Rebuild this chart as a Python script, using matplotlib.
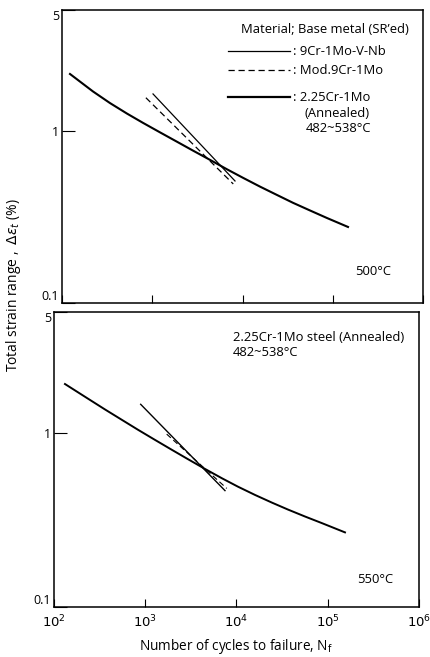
import numpy as np
import matplotlib
matplotlib.use("Agg")
import matplotlib.pyplot as plt
from matplotlib.ticker import NullLocator

plt.rcParams["font.family"] = ["Open Sans", "DejaVu Sans"]
plt.rcParams["mathtext.fontset"] = "dejavusans"

# 500 C panel
top_cr2_x = [122.6, 220.5, 340.3, 525.2, 789.6, 1219, 1881, 2828, 4364, 6735, 10130,
             15630, 24120, 36280, 55970, 86370, 147600]
top_cr2_y = [2.128, 1.685, 1.443, 1.254, 1.108, 0.976, 0.861, 0.765, 0.676, 0.596, 0.532,
             0.473, 0.423, 0.381, 0.344, 0.311, 0.276]
top_vnb_x = [1020, 8260]
top_vnb_y = [1.63, 0.51]
top_mod_x = [850, 7900]
top_mod_y = [1.55, 0.49]

# 550 C panel
bot_cr2_x = [131.9, 235.9, 362.2, 556.3, 832.6, 1279, 1965, 2941, 4516, 6937, 10385,
             15950, 24490, 36680, 56330, 86490, 154500]
bot_cr2_y = [1.924, 1.584, 1.373, 1.195, 1.049, 0.917, 0.803, 0.710, 0.624, 0.551, 0.493,
             0.442, 0.399, 0.364, 0.332, 0.304, 0.269]
bot_vnb_x = [891, 7480]
bot_vnb_y = [1.47, 0.468]
bot_mod_x = [1718, 7820]
bot_mod_y = [0.99, 0.482]

y_ticks = [0.1, 1, 5]
y_ticklabels = ["0.1", "1", "5"]
x_ticks = [1e2, 1e3, 1e4, 1e5, 1e6]
x_ticklabels = ["$10^2$", "$10^3$", "$10^4$", "$10^5$", "$10^6$"]

W, H = 430, 657
fig = plt.figure(figsize=(W / 100, H / 100), dpi=100)


def px_axes(left, right, top, bottom):
    return fig.add_axes([left / W, (H - bottom) / H, (right - left) / W, (bottom - top) / H])


ax1 = px_axes(62, 423, 10, 303)
ax2 = px_axes(54, 419, 312, 607)

for ax in (ax1, ax2):
    ax.set_xscale("log")
    ax.set_yscale("log")
    ax.set_xlim(1e2, 1e6)
    ax.set_ylim(0.1, 5)
    ax.xaxis.set_minor_locator(NullLocator())
    ax.yaxis.set_minor_locator(NullLocator())
    ax.set_yticks(y_ticks)
    ax.set_yticklabels(y_ticklabels, fontsize=9)
    ax.set_xticks(x_ticks)
    ax.tick_params(axis="y", direction="in", length=9, width=0.8, pad=2)
    ax.tick_params(axis="x", direction="in", length=6, width=0.8)
    for s in ax.spines.values():
        s.set_linewidth(1.1)
    labels = ax.get_yticklabels()
    labels[0].set_verticalalignment("bottom")
    labels[2].set_verticalalignment("top")

ax1.set_xticklabels([])
ax2.set_xticklabels(x_ticklabels, fontsize=9.5)
ax2.tick_params(axis="x", pad=5)

ax1.plot(top_cr2_x, top_cr2_y, color="black", lw=1.5)
ax1.plot(top_vnb_x, top_vnb_y, color="black", lw=0.9)
ax1.plot(top_mod_x, top_mod_y, color="black", lw=0.9, ls=(0, (5, 3)))

ax2.plot(bot_cr2_x, bot_cr2_y, color="black", lw=1.4)
ax2.plot(bot_vnb_x, bot_vnb_y, color="black", lw=1.0)
ax2.plot(bot_mod_x, bot_mod_y, color="black", lw=0.8, ls=(0, (5, 3)))

# legend (top panel)
fs = 9.4
ax1.text(0.729, 0.932, "Material; Base metal (SR’ed)", transform=ax1.transAxes,
         ha="center", va="center", fontsize=fs)
ax1.plot([0.46, 0.632], [0.86, 0.86], transform=ax1.transAxes, color="black", lw=0.9)
ax1.plot([0.46, 0.632], [0.795, 0.795], transform=ax1.transAxes, color="black", lw=0.9,
         ls=(0, (5, 3)))
ax1.plot([0.46, 0.632], [0.703, 0.703], transform=ax1.transAxes, color="black", lw=1.6)
ax1.text(0.64, 0.86, ": 9Cr-1Mo-V-Nb", transform=ax1.transAxes, va="center", fontsize=fs)
ax1.text(0.64, 0.795, ": Mod.9Cr-1Mo", transform=ax1.transAxes, va="center", fontsize=fs)
ax1.text(0.64, 0.703, ": 2.25Cr-1Mo", transform=ax1.transAxes, va="center", fontsize=fs)
ax1.text(0.762, 0.648, "(Annealed)", transform=ax1.transAxes, ha="center", va="center", fontsize=fs)
ax1.text(0.767, 0.597, "482~538°C", transform=ax1.transAxes, ha="center", va="center", fontsize=fs)
ax1.text(0.861, 0.109, "500°C", transform=ax1.transAxes, ha="center", va="center", fontsize=fs)

ax2.text(0.49, 0.915, "2.25Cr-1Mo steel (Annealed)", transform=ax2.transAxes,
         va="center", fontsize=fs)
ax2.text(0.49, 0.864, "482~538°C", transform=ax2.transAxes, va="center", fontsize=fs)
ax2.text(0.879, 0.092, "550°C", transform=ax2.transAxes, ha="center", va="center", fontsize=fs)

fig.text(14 / W, (H - 285) / H, "Total strain range ,  $\\Delta\\varepsilon_t$ (%)",
         rotation=90, ha="center", va="center", fontsize=10)
fig.text(236 / W, 10 / H, "Number of cycles to failure, N$_\\mathrm{f}$",
         ha="center", va="center", fontsize=9.8)

fig.savefig("out.png", dpi=100)
